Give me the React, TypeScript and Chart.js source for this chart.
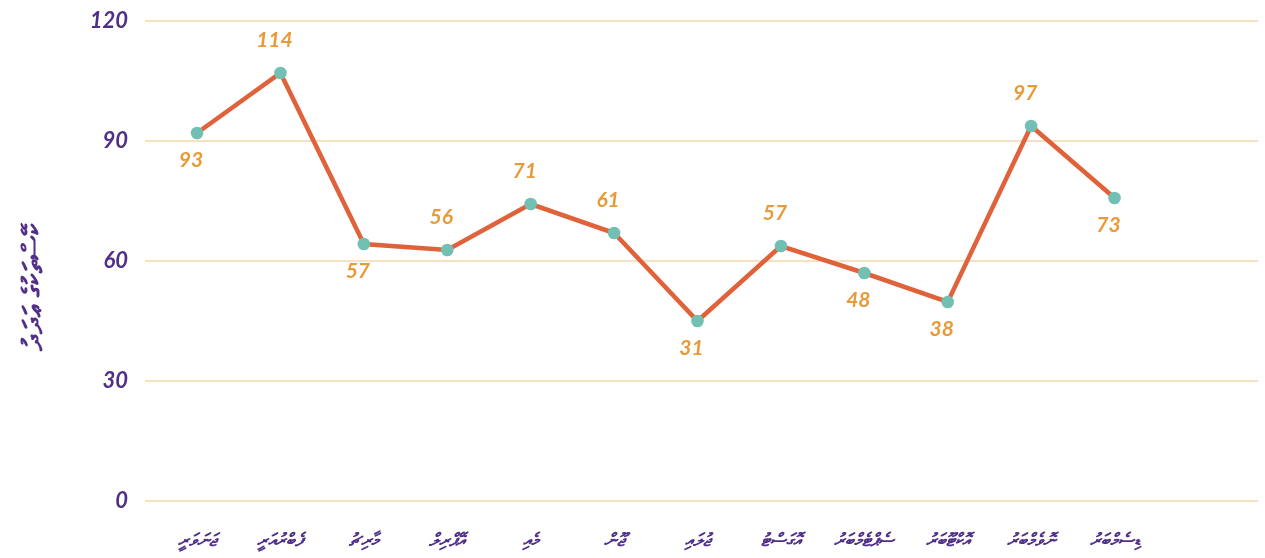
import React, { useEffect, useRef } from 'react';
import { Chart, registerables } from 'chart.js';

Chart.register(...registerables);

// ---- data ----
const months = [
  'ޖަނަވަރީ',
  'ފެބްރުއަރީ',
  'މާރިޗު',
  'އޭޕްރިލް',
  'މެއި',
  'ޖޫން',
  'ޖުލައި',
  'އޮގަސްޓު',
  'ސެޕްޓެމްބަރު',
  'އޮކްޓޫބަރު',
  'ނޮވެމްބަރު',
  'ޑިސެމްބަރު',
];
// point positions as plotted against the axis
const pointValues = [92, 107, 64.25, 62.75, 74.25, 67, 45, 63.75, 57, 49.75, 93.75, 75.75];
// numbers printed next to the points
const labelValues = [93, 114, 57, 56, 71, 61, 31, 57, 48, 38, 97, 73];
const yTicks = [0, 30, 60, 90, 120];
const yTitle = 'ކޭސްތަކުގެ ޢަދަދު';

// ---- style ----
const labelAbove = [false, true, false, true, true, true, false, true, false, false, true, false];
const PURPLE = '#4f2f88';
const ORANGE = '#e89a3a';
const LINE = '#e0623a';
const TEAL = '#72c0b3';
const GRID = '#f8e0c3';
const FONT = 'Lato, "Noto Sans", "DejaVu Sans", sans-serif';

const labelPlugin = {
  id: 'pointLabels',
  afterDatasetsDraw(chart: any) {
    const ctx = chart.ctx;
    const meta = chart.getDatasetMeta(0);
    ctx.save();
    ctx.font = `italic bold 21px ${FONT}`;
    ctx.fillStyle = ORANGE;
    ctx.textAlign = 'center';
    ctx.textBaseline = 'middle';
    meta.data.forEach((pt: any, i: number) => {
      const dy = labelAbove[i] ? -33 : 27;
      ctx.fillText(String(labelValues[i]), pt.x - 6, pt.y + dy);
    });
    ctx.restore();
  },
  afterDraw(chart: any) {
    const ctx = chart.ctx;
    ctx.save();
    ctx.translate(33, 287);
    ctx.rotate(-Math.PI / 2);
    ctx.font = `bold 28px ${FONT}`;
    ctx.fillStyle = PURPLE;
    ctx.textAlign = 'center';
    ctx.textBaseline = 'middle';
    ctx.fillText(yTitle, 0, 0);
    ctx.restore();
  },
};

export default function App() {
  const ref = useRef<HTMLCanvasElement>(null);
  useEffect(() => {
    if (!ref.current) return;
    const chart = new Chart(ref.current, {
      type: 'line',
      data: {
        datasets: [
          {
            data: pointValues.map((v, i) => ({ x: i, y: v })),
            borderColor: LINE,
            borderWidth: 4.5,
            pointRadius: 6.3,
            pointHoverRadius: 6.3,
            pointBackgroundColor: TEAL,
            pointBorderWidth: 0,
            tension: 0,
            fill: false,
          },
        ],
      },
      options: {
        animation: false,
        responsive: true,
        maintainAspectRatio: false,
        layout: { padding: { top: 21, right: 7, left: 0, bottom: 0 } },
        plugins: { legend: { display: false }, tooltip: { enabled: false }, title: { display: false } },
        scales: {
          x: {
            type: 'linear',
            min: -0.624,
            max: 12.72,
            grid: { display: false },
            border: { display: false },
            afterFit: (s: any) => {
              s.height = 57;
              s.paddingLeft = 0;
              s.paddingRight = 0;
            },
            afterBuildTicks: (s: any) => {
              s.ticks = months.map((_, i) => ({ value: i }));
            },
            ticks: {
              autoSkip: false,
              maxRotation: 0,
              padding: 20,
              color: PURPLE,
              font: { family: FONT, size: 18, weight: 'bold', style: 'italic' },
              callback: (v: any) => months[v] ?? '',
            },
          },
          y: {
            min: 0,
            max: 120,
            afterFit: (s: any) => {
              s.width = 145;
              s.paddingTop = 0;
              s.paddingBottom = 0;
            },
            afterBuildTicks: (s: any) => {
              s.ticks = yTicks.map((v) => ({ value: v }));
            },
            grid: { color: GRID, lineWidth: 2, drawTicks: false },
            border: { display: false },
            ticks: {
              padding: 17,
              color: PURPLE,
              font: { family: FONT, size: 22, weight: 'bold', style: 'italic' },
            },
          },
        },
      },
      plugins: [labelPlugin],
    });
    return () => chart.destroy();
  }, []);
  return (
    <div style={{ position: 'fixed', left: 0, top: 0, width: 1265, height: 558, background: '#fff' }}>
      <canvas ref={ref} />
    </div>
  );
}
